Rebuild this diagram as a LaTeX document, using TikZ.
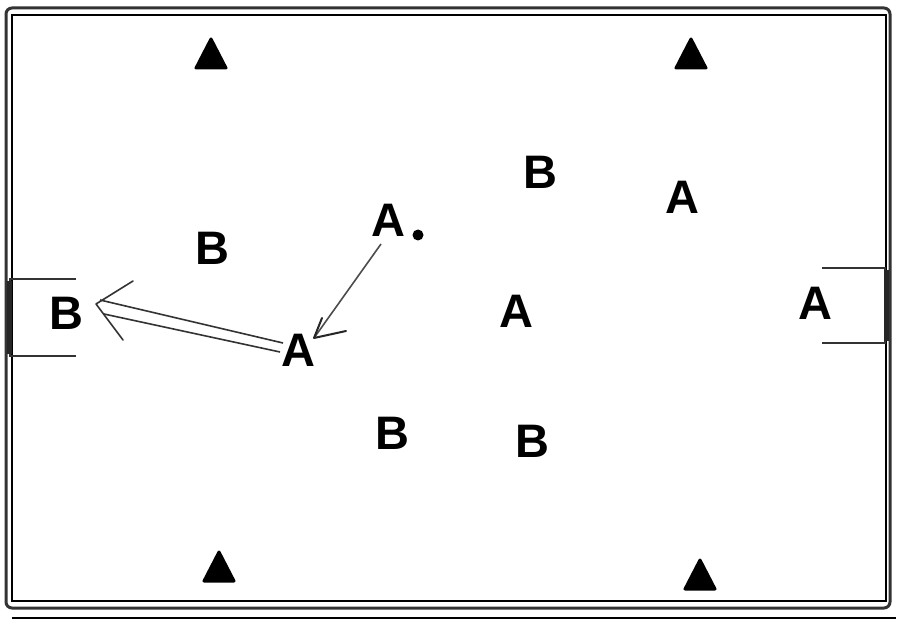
\documentclass[tikz,border=0pt]{standalone}
\usepackage{fontspec}
\setmainfont{Liberation Sans}
\usetikzlibrary{arrows.meta}
\begin{document}
\begin{tikzpicture}[x=1pt,y=-1pt,
  lbl/.style={font=\fontsize{47}{47}\selectfont\bfseries, inner sep=0pt},
  cone/.style={fill=black, draw=black, line width=3pt, line join=round},
  frame/.style={draw=black!80, line width=3pt, rounded corners=6pt},
  thinline/.style={draw=black, line width=1.4pt},
  goal/.style={draw=black!80, line width=2.5pt},
  post/.style={draw=black!85, line width=5pt}]
\useasboundingbox (0,0) rectangle (900,620);
\fill[white] (0,0) rectangle (900,620);
% frame
\draw[frame] (6,8) rectangle (890,608);
\draw[thinline] (12,15) rectangle (886,601);
\draw[line width=1.6pt] (12,618) -- (896,618);
% goals
\draw[goal] (76,279) -- (10,279) -- (10,356) -- (76,356);
\draw[post] (9,281) -- (9,354);
\draw[goal] (822,268) -- (885,268) -- (885,343) -- (822,343);
\draw[post] (886,270) -- (886,341);
% cones
\foreach \n/\x/\y in {c1/211/54, c2/691/54, c3/219/567, c4/700/575}
  \draw[cone] (\x-15,\y+14) -- (\x,\y-15) -- (\x+15,\y+14) -- cycle;
% labels
\node[lbl] (b1) at (540,172) {B};
\node[lbl] (a1) at (682,197) {A};
\node[lbl] (a0) at (388,220) {A};
\node[circle, fill=black, inner sep=0pt, minimum size=11pt] (dot) at (418,235) {};
\node[lbl] (b2) at (212,248) {B};
\node[lbl] (bg) at (66,313) {B};
\node[lbl] (a2) at (516,311) {A};
\node[lbl] (ag) at (815,303) {A};
\node[lbl] (a3) at (298,350) {A};
\node[lbl] (b3) at (392,433) {B};
\node[lbl] (b4) at (532,441) {B};
% pass arrow
\coordinate (p0) at (381,244);
\coordinate (p1) at (314,338);
\draw[line width=1.6pt, draw=black!70] (p0) -- (p1);
\draw[line width=2pt, draw=black!85, line cap=round] (p1) -- (322,318) (p1) -- (346,331);
% run arrow (double line)
\coordinate (r0) at (284,347);
\coordinate (tip) at (96,304);
\draw[line width=1.6pt, draw=black!80] (283,343) -- (100,300);
\draw[line width=1.6pt, draw=black!80] (280,352) -- (104,314);
\draw[line width=1.6pt, draw=black!80, line cap=round] (tip) -- (133,281) (tip) -- (123,340);
\end{tikzpicture}
\end{document}
